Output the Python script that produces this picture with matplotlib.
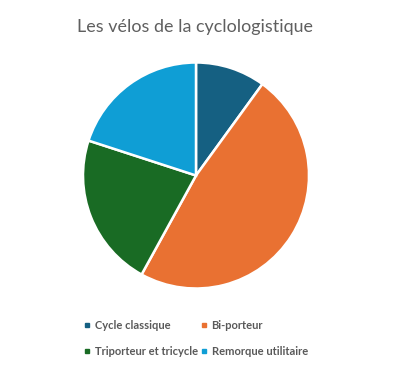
import matplotlib.pyplot as plt
from matplotlib.lines import Line2D

labels = ['Cycle classique', 'Bi-porteur', 'Triporteur et tricycle', 'Remorque utilitaire']
values = [10, 48, 22, 20]
colors = ['#156082', '#E97132', '#196B24', '#0F9ED5']

plt.rcParams['font.family'] = ['Lato', 'DejaVu Sans']

W, H = 393, 369
fig = plt.figure(figsize=(W / 100, H / 100), dpi=100)

# pie centre ~ (196, 175) px, radius ~113 px
cx, cy, r = 196, 175.5, 113
ax = fig.add_axes([(cx - r) / W, (H - cy - r) / H, 2 * r / W, 2 * r / H])
wedges, _ = ax.pie(values, colors=colors, startangle=90, counterclock=False,
                   radius=1, wedgeprops=dict(edgecolor='white', linewidth=1.8))
ax.set_xlim(-1, 1)
ax.set_ylim(-1, 1)
ax.set_aspect('equal')

fig.text(195 / W, 1 - 27 / H, 'Les vélos de la cyclologistique',
         ha='center', va='center', fontsize=12.9, color='#5f5f5f')

# legend fills column-wise, so reorder to get rows like the reference
order = [0, 2, 1, 3]
handles = [Line2D([], [], marker='s', linestyle='none', markersize=3.2,
                  color=colors[i]) for i in order]
fig.legend(handles, [labels[i] for i in order], ncol=2, frameon=False,
           loc='upper left', bbox_to_anchor=(74 / W, 1 - 310 / H),
           handlelength=0.6, handletextpad=0.35, columnspacing=0.3,
           labelspacing=1.35, prop=dict(size=8, weight='bold'),
           labelcolor='#595959')

fig.savefig('out.png', dpi=100)
